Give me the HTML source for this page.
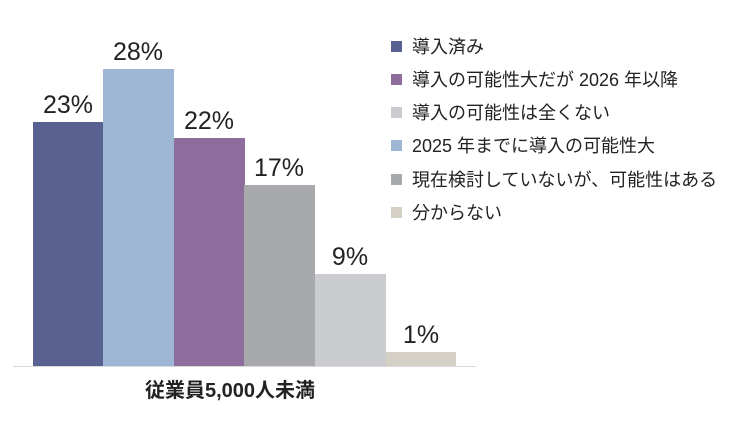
<!DOCTYPE html>
<html><head><meta charset="utf-8"><style>
body{margin:0;width:744px;height:418px;background:#fff;overflow:hidden;font-family:"Liberation Sans","Noto Sans CJK JP",sans-serif;}
</style></head><body>
<svg width="744" height="418" xmlns="http://www.w3.org/2000/svg" style="font-family:'Liberation Sans','Noto Sans CJK JP',sans-serif">
<rect x="33" y="122" width="71" height="244" fill="#58618f"/>
<rect x="103" y="69" width="71" height="297" fill="#9cb6d3"/>
<rect x="174" y="138" width="71" height="228" fill="#8e6d9c"/>
<rect x="244" y="185" width="71" height="181" fill="#a7a9ad"/>
<rect x="315" y="274" width="71" height="92" fill="#cbcccf"/>
<rect x="386" y="352" width="70" height="14" fill="#d5d0c6"/>
<line x1="13" y1="366.5" x2="476" y2="366.5" stroke="#d8d8d8" stroke-width="1"/>
<g font-size="25" fill="#222" text-anchor="middle">
<text x="68" y="113">23%</text>
<text x="138" y="60">28%</text>
<text x="209" y="129">22%</text>
<text x="279" y="176">17%</text>
<text x="350" y="265">9%</text>
<text x="421" y="343">1%</text>
</g>
<text x="230" y="397" font-size="20" font-weight="bold" fill="#222" text-anchor="middle">従業員5,000人未満</text>
<g font-size="18" fill="#222">
<rect x="391" y="41" width="11" height="11" fill="#58618f"/><text x="412" y="53">導入済み</text>
<rect x="391" y="74" width="11" height="11" fill="#8e6d9c"/><text x="412" y="86">導入の可能性大だが 2026 年以降</text>
<rect x="391" y="107" width="11" height="11" fill="#cbcccf"/><text x="412" y="119">導入の可能性は全くない</text>
<rect x="391" y="140" width="11" height="11" fill="#9cb6d3"/><text x="412" y="152">2025 年までに導入の可能性大</text>
<rect x="391" y="174" width="11" height="11" fill="#a7a9ad"/><text x="412" y="186">現在検討していないが、可能性はある</text>
<rect x="391" y="207" width="11" height="11" fill="#d5d0c6"/><text x="412" y="219">分からない</text>
</g>
</svg>
</body></html>
